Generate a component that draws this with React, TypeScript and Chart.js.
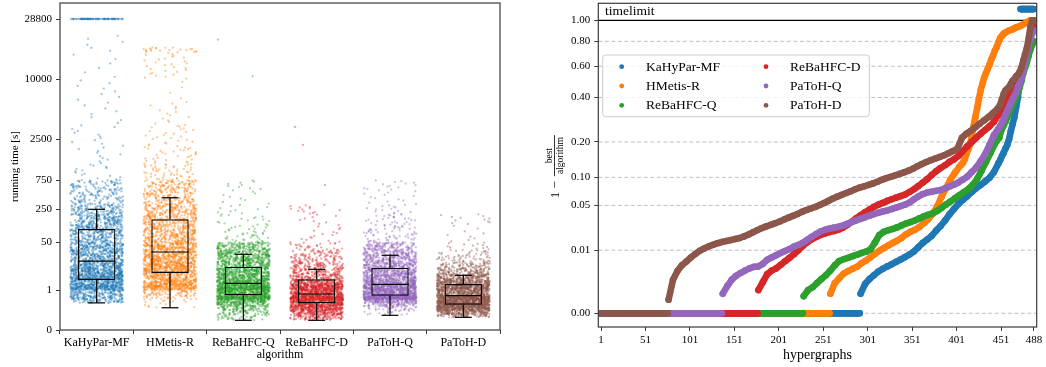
import React, { useEffect, useRef } from 'react';
import { Chart, registerables, LinearScale } from 'chart.js';

// ---------------- shared ----------------
const ALGORITHMS = ['KaHyPar-MF', 'HMetis-R', 'ReBaHFC-Q', 'ReBaHFC-D', 'PaToH-Q', 'PaToH-D'];
const COLORS = ['#1f77b4', '#ff7f0e', '#2ca02c', '#d62728', '#9467bd', '#8c564b'];

// ---------------- left panel: running times ----------------
const TIME_TICKS = [0, 1, 50, 250, 750, 2500, 10000, 28800];
const TIMELIMIT_SECONDS = 28800;
const WHISKER_LOW = [0.6, 0.47, 0.183, 0.183, 0.29, 0.246];
const Q1 = [2.94, 5.34, 0.824, 0.588, 0.812, 0.55];
const MEDIAN = [13.3, 25.4, 2.15, 0.866, 1.94, 0.812];
const Q3 = [96, 154, 8.73, 3.14, 8.09, 2.0];
const WHISKER_HIGH = [250, 386, 21.6, 7.16, 20.1, 4.42];
const CLOUD_MAX = [22000, 17500, 750, 300, 750, 200];
const TIMEOUT_COUNT = [80, 0, 0, 0, 0, 0];

// how many runs fall in each running-time bin
const BIN_EDGES = [0.1, 0.2, 0.3, 0.4, 0.5, 0.6, 0.7, 0.8, 1, 1.5, 2, 3, 5, 8, 12, 20, 30, 50, 80, 120, 200, 300, 500, 750, 1200, 2000, 3500, 6000, 10000, 16000, 24000, 28800];
const COUNTS_KAHYPAR_MF = [0, 0, 0, 0, 0, 50, 70, 110, 150, 110, 120, 230, 190, 140, 140, 130, 150, 140, 150, 160, 110, 90, 70, 14, 10, 12, 8, 8, 6, 6, 0];
const COUNTS_HMETIS_R = [0, 0, 0, 4, 4, 8, 20, 60, 110, 110, 130, 140, 180, 180, 190, 120, 180, 160, 130, 150, 130, 130, 100, 50, 30, 25, 14, 4, 28, 22, 0];
const COUNTS_REBAHFC_Q = [4, 30, 45, 60, 90, 120, 230, 280, 220, 130, 180, 200, 180, 130, 180, 130, 130, 25, 15, 14, 9, 8, 10, 0, 0, 0, 0, 0, 0, 0, 0];
const COUNTS_REBAHFC_D = [4, 90, 140, 180, 200, 220, 270, 280, 200, 140, 140, 110, 90, 70, 60, 40, 25, 10, 6, 8, 14, 0, 0, 0, 0, 0, 0, 0, 0, 0, 0];
const COUNTS_PATOH_Q = [0, 0, 15, 30, 70, 130, 330, 330, 200, 130, 170, 200, 180, 140, 150, 110, 110, 35, 25, 25, 14, 12, 14, 0, 0, 0, 0, 0, 0, 0, 0];
const COUNTS_PATOH_D = [0, 40, 150, 260, 270, 260, 280, 250, 200, 120, 180, 170, 100, 60, 40, 20, 12, 6, 3, 12, 0, 0, 0, 0, 0, 0, 0, 0, 0, 0, 0];
const OUTLIERS_KAHYPAR_MF: number[] = [];
const OUTLIERS_HMETIS_R: number[] = [];
const OUTLIERS_REBAHFC_Q = [10500, 20000];
const OUTLIERS_REBAHFC_D = [620, 2100, 3300];
const OUTLIERS_PATOH_Q: number[] = [];
const OUTLIERS_PATOH_D: number[] = [];

const BIN_COUNTS = [COUNTS_KAHYPAR_MF, COUNTS_HMETIS_R, COUNTS_REBAHFC_Q, COUNTS_REBAHFC_D, COUNTS_PATOH_Q, COUNTS_PATOH_D];
const OUTLIERS = [OUTLIERS_KAHYPAR_MF, OUTLIERS_HMETIS_R, OUTLIERS_REBAHFC_Q, OUTLIERS_REBAHFC_D, OUTLIERS_PATOH_Q, OUTLIERS_PATOH_D];

// ---------------- right panel: performance profile ----------------
const HYPERGRAPHS = 488;
const PROFILE_TICKS_X = [1, 51, 101, 151, 201, 251, 301, 351, 401, 451, 488];
const PROFILE_TICKS_Y = [0, 0.01, 0.05, 0.1, 0.2, 0.4, 0.6, 0.8, 1];
const TIMEOUT_ROW = 1.12;
const ZERO_COUNT = [292, 258, 228, 177, 137, 76];
const PROFILE_TIMEOUTS = [16, 0, 0, 0, 0, 0];
const MAIN_START = [293, 259, 229, 178, 138, 77];
const MAIN_STEP = 5;
const TAIL_START = [450, 406, 450, 450, 450, 450];
const TAIL_STEP = 2;

const MAIN_KAHYPAR_MF = [.0003, .0010, .0016, .0022, .0029, .0035, .0041, .0047, .0054, .0062, .0071, .0081, .0094, .0115, .0139, .0160, .0185, .0225, .0265, .0318, .0385, .0450, .0520, .0580, .0640, .0710, .0780, .0840, .0910, .0990, .1120, .1340];
const TAIL_KAHYPAR_MF = [.143, .155, .165, .178, .19, .21, .24, .27, .30, .35, .40, .50];
const MAIN_HMETIS_R = [.0003, .0011, .0017, .0025, .0030, .0035, .0040, .0050, .0058, .0070, .0083, .0097, .0110, .0124, .0138, .0152, .0170, .0195, .0215, .0232, .0255, .0290, .0330, .0390, .0480, .0630, .0780, .0950, .1100, .1250];
const TAIL_HMETIS_R = [.13, .135, .145, .16, .175, .19, .22, .26, .30, .34, .39, .44, .48, .52, .55, .58, .61, .65, .68, .72, .75, .79, .83, .85, .87, .88, .89, .90, .905, .91, .92, .93, .935, .94, .95, .96, .97, .98, .99, 1, 1, 1];
const MAIN_REBAHFC_Q = [.0002, .0005, .0007, .0011, .0016, .0022, .0031, .0044, .0057, .0063, .0068, .0074, .0080, .0087, .0093, .0103, .0140, .0190, .0215, .0228, .0238, .0252, .0270, .0287, .0302, .0318, .0340, .0362, .0380, .0398, .0425, .0465, .0510, .0555, .0605, .0655, .0705, .0760, .0840, .0960, .1150, .1380, .1640, .1940, .2150];
const TAIL_REBAHFC_Q = [.23, .25, .265, .28, .30, .32, .34, .36, .38, .40, .43, .46, .50, .55, .59, .63, .68, .73, .77, .80];
const MAIN_REBAHFC_D = [.0005, .0012, .0024, .0031, .0036, .0045, .0056, .0068, .0082, .0100, .0122, .0143, .0162, .0177, .0191, .0203, .0213, .0222, .0232, .0250, .0275, .0305, .0340, .0375, .0410, .0445, .0480, .0510, .0535, .0565, .0590, .0615, .0640, .0665, .0710, .0760, .0820, .0890, .0960, .1050, .1140, .1220, .1290, .1380, .1450, .1550, .1700, .1850, .2000, .2150, .2300, .2450, .2600, .2800, .3100];
const TAIL_REBAHFC_D = [.32, .335, .35, .37, .39, .41, .43, .45, .47, .50, .52, .55, .58, .62, .67, .72, .78, .85, .90, .94];
const MAIN_PATOH_Q = [.0003, .0008, .0015, .0021, .0026, .0031, .0036, .0040, .0041, .0048, .0061, .0069, .0078, .0087, .0096, .0105, .0118, .0127, .0140, .0158, .0178, .0198, .0218, .0232, .0242, .0250, .0258, .0268, .0285, .0302, .0319, .0335, .0352, .0370, .0388, .0405, .0420, .0433, .0450, .0470, .0490, .0510, .0540, .0590, .0635, .0675, .0700, .0715, .0730, .0745, .0775, .0810, .0845, .0890, .0950, .1015, .1120, .1230, .1400, .1600, .1900, .2250, .2500];
const TAIL_PATOH_Q = [.26, .275, .29, .31, .33, .35, .37, .39, .41, .43, .46, .48, .52, .57, .63, .70, .76, .82, .87, .90];
const MAIN_PATOH_D = [.0001, .0015, .0030, .0044, .0055, .0069, .0083, .0097, .0108, .0119, .0128, .0137, .0144, .0150, .0156, .0163, .0170, .0181, .0195, .0212, .0229, .0246, .0261, .0276, .0291, .0308, .0328, .0348, .0368, .0390, .0415, .0438, .0458, .0478, .0505, .0534, .0568, .0602, .0632, .0662, .0692, .0724, .0759, .0790, .0815, .0842, .0872, .0906, .0946, .0982, .1012, .1044, .1078, .1115, .1155, .1204, .1264, .1322, .1377, .1428, .1473, .1520, .1570, .1630, .1700, .1780, .2150, .2300, .2420, .2560, .2710, .2860, .3010, .3200, .3400];
const TAIL_PATOH_D = [.36, .39, .42, .44, .45, .46, .48, .50, .51, .53, .54, .56, .59, .64, .69, .74, .82, .93, 1, 1];

const PROFILE_MAIN = [MAIN_KAHYPAR_MF, MAIN_HMETIS_R, MAIN_REBAHFC_Q, MAIN_REBAHFC_D, MAIN_PATOH_Q, MAIN_PATOH_D];
const PROFILE_TAIL = [TAIL_KAHYPAR_MF, TAIL_HMETIS_R, TAIL_REBAHFC_Q, TAIL_REBAHFC_D, TAIL_PATOH_Q, TAIL_PATOH_D];

// ---------------- scales ----------------
const FONT = "'Liberation Serif', 'DejaVu Serif', serif";
const TIME_AXIS_MAX = 38200;
const TIME_TICK_POS = [0, 0.12232, 0.2682, 0.36911, 0.45872, 0.5841, 0.76758, 0.95107];
const lg = (v: number) => Math.log10(1 + Math.max(0, v));
const TIME_TICK_T = TIME_TICKS.map(lg);

function timeFwd(v: number) {
  const T = TIME_TICK_T, P = TIME_TICK_POS, t = lg(v);
  let i = 0;
  while (i < T.length - 2 && t > T[i + 1]) i++;
  return P[i] + ((t - T[i]) / (T[i + 1] - T[i])) * (P[i + 1] - P[i]);
}
function timeInv(f: number) {
  const T = TIME_TICK_T, P = TIME_TICK_POS;
  let i = 0;
  while (i < P.length - 2 && f > P[i + 1]) i++;
  const t = T[i] + ((f - P[i]) / (P[i + 1] - P[i])) * (T[i + 1] - T[i]);
  return Math.pow(10, t) - 1;
}
const cbrt = (v: number) => Math.sign(v) * Math.pow(Math.abs(v), 1 / 3);

class TimeAxisScale extends LinearScale {
  static id = 'anchoredTime';
  getPixelForValue(value: number) {
    const a = timeFwd(this.min), b = timeFwd(this.max);
    return this.getPixelForDecimal((timeFwd(value) - a) / (b - a));
  }
  getValueForPixel(pixel: number) {
    const a = timeFwd(this.min), b = timeFwd(this.max);
    return timeInv(a + this.getDecimalForPixel(pixel) * (b - a));
  }
}
class CubeRootScale extends LinearScale {
  static id = 'cubeRoot';
  getPixelForValue(value: number) {
    const a = cbrt(this.min), b = cbrt(this.max);
    return this.getPixelForDecimal((cbrt(value) - a) / (b - a));
  }
  getValueForPixel(pixel: number) {
    const a = cbrt(this.min), b = cbrt(this.max);
    const c = a + this.getDecimalForPixel(pixel) * (b - a);
    return c * c * c;
  }
}
Chart.register(...registerables, TimeAxisScale, CubeRootScale);

// ---------------- helpers ----------------
const STRIP_HALF_WIDTH = 0.36;
// deterministic hash in [0,1) used only for the horizontal jitter of the strip plot
function hash01(n: number) {
  let x = Math.imul((n + 0x9e3779b9) | 0, 0x85ebca6b);
  x ^= x >>> 13;
  x = Math.imul(x, 0xc2b2ae35);
  x ^= x >>> 16;
  return (x >>> 0) / 4294967296;
}
const jitter = (s: number) => (hash01(s) - 0.5) * 2 * STRIP_HALF_WIDTH;
function rgba(hex: string, a: number) {
  const n = parseInt(hex.slice(1), 16);
  return `rgba(${(n >> 16) & 255},${(n >> 8) & 255},${n & 255},${a})`;
}

function stripPoints(ai: number) {
  const pts: { x: number; y: number }[] = [];
  let s = ai * 10007 + 17;
  BIN_COUNTS[ai].forEach((n, b) => {
    if (!n) return;
    const lo = Math.max(BIN_EDGES[b], WHISKER_LOW[ai]);
    const hi = Math.min(BIN_EDGES[b + 1], CLOUD_MAX[ai]);
    if (hi <= lo) return;
    const flo = timeFwd(lo), fhi = timeFwd(hi);
    for (let k = 0; k < n; k++) {
      pts.push({ x: ai + jitter(s++), y: timeInv(flo + ((k + 0.5) / n) * (fhi - flo)) });
    }
  });
  for (let k = 0; k < TIMEOUT_COUNT[ai]; k++) pts.push({ x: ai + jitter(s++), y: TIMELIMIT_SECONDS });
  OUTLIERS[ai].forEach((v) => pts.push({ x: ai + jitter(s++), y: v }));
  return pts;
}

function zeroRun(ai: number) {
  const pts: { x: number; y: number }[] = [];
  for (let h = 1; h <= ZERO_COUNT[ai]; h++) pts.push({ x: h, y: 0 });
  return pts;
}
function profileCurve(ai: number) {
  const pts: { x: number; y: number }[] = [];
  PROFILE_MAIN[ai].forEach((v, k) => pts.push({ x: MAIN_START[ai] + k * MAIN_STEP, y: v }));
  PROFILE_TAIL[ai].forEach((v, k) => pts.push({ x: TAIL_START[ai] + k * TAIL_STEP, y: v }));
  return pts;
}
function timeoutRun(ai: number) {
  const pts: { x: number; y: number }[] = [];
  for (let h = HYPERGRAPHS - PROFILE_TIMEOUTS[ai] + 1; h <= HYPERGRAPHS; h++) pts.push({ x: h, y: TIMEOUT_ROW });
  return pts;
}

const frame = {
  id: 'frame',
  afterDraw(chart: any) {
    const { ctx, chartArea: ca } = chart;
    ctx.save();
    ctx.strokeStyle = '#3a3a3a';
    ctx.lineWidth = 1.2;
    ctx.strokeRect(ca.left, ca.top, ca.right - ca.left, ca.bottom - ca.top);
    ctx.restore();
  },
};

const boxWhiskers = {
  id: 'boxWhiskers',
  afterDatasetsDraw(chart: any) {
    const { ctx, scales } = chart;
    const x = scales.x, y = scales.y;
    const boxHalf = ((x.getPixelForValue(1) - x.getPixelForValue(0)) * 0.51) / 2;
    const capHalf = boxHalf * 0.45;
    ctx.save();
    ctx.strokeStyle = '#000';
    ctx.lineWidth = 1.2;
    const line = (x1: number, y1: number, x2: number, y2: number) => {
      ctx.beginPath(); ctx.moveTo(x1, y1); ctx.lineTo(x2, y2); ctx.stroke();
    };
    ALGORITHMS.forEach((_, i) => {
      const cx = x.getPixelForValue(i);
      const pq1 = y.getPixelForValue(Q1[i]), pq3 = y.getPixelForValue(Q3[i]);
      const plo = y.getPixelForValue(WHISKER_LOW[i]), phi = y.getPixelForValue(WHISKER_HIGH[i]);
      const pm = y.getPixelForValue(MEDIAN[i]);
      line(cx, pq3, cx, phi);
      line(cx, pq1, cx, plo);
      line(cx - capHalf, phi, cx + capHalf, phi);
      line(cx - capHalf, plo, cx + capHalf, plo);
      line(cx - boxHalf, pm, cx + boxHalf, pm);
    });
    ctx.restore();
  },
};

const profileGrid = {
  id: 'profileGrid',
  beforeDatasetsDraw(chart: any) {
    const { ctx, chartArea: ca, scales } = chart;
    const y = scales.y;
    ctx.save();
    ctx.beginPath();
    ctx.rect(ca.left, ca.top, ca.right - ca.left, ca.bottom - ca.top);
    ctx.clip();
    ctx.setLineDash([4, 2.5]);
    ctx.strokeStyle = '#b0b0b0';
    ctx.lineWidth = 0.8;
    PROFILE_TICKS_Y.forEach((v) => {
      if (v >= 1) return;
      const py = y.getPixelForValue(v);
      ctx.beginPath(); ctx.moveTo(ca.left, py); ctx.lineTo(ca.right, py); ctx.stroke();
    });
    ctx.setLineDash([]);
    ctx.strokeStyle = '#000';
    ctx.lineWidth = 1.2;
    const p1 = y.getPixelForValue(1);
    ctx.beginPath(); ctx.moveTo(ca.left, p1); ctx.lineTo(ca.right, p1); ctx.stroke();
    ctx.restore();
  },
  afterDraw(chart: any) {
    const { ctx, chartArea: ca } = chart;
    ctx.save();
    ctx.fillStyle = '#000';
    ctx.font = `13.5px ${FONT}`;
    ctx.textBaseline = 'alphabetic';
    ctx.textAlign = 'left';
    ctx.fillText('timelimit', ca.left + 6.7, 15);
    // legend
    const lx = ca.left + 4.4, ly = 55, lw = 266.6, lh = 61.7;
    ctx.beginPath();
    (ctx as any).roundRect(lx, ly, lw, lh, 3);
    ctx.fillStyle = 'rgba(255,255,255,0.8)';
    ctx.fill();
    ctx.strokeStyle = '#cccccc';
    ctx.lineWidth = 1;
    ctx.stroke();
    const markerX = [lx + 19, lx + 163.3];
    const textX = [lx + 43.3, lx + 187.3];
    const rowY = [66.7, 86, 105.3];
    ctx.font = `13.5px ${FONT}`;
    ctx.textBaseline = 'middle';
    ALGORITHMS.forEach((name, i) => {
      const col = i < 3 ? 0 : 1, row = i % 3;
      ctx.fillStyle = COLORS[i];
      ctx.beginPath(); ctx.arc(markerX[col], rowY[row], 2.4, 0, Math.PI * 2); ctx.fill();
      ctx.fillStyle = '#000';
      ctx.fillText(name, textX[col], rowY[row] + 0.5);
    });
    // y-axis title: 1 - best / algorithm
    ctx.translate(25, (ca.top + ca.bottom) / 2);
    ctx.rotate(-Math.PI / 2);
    ctx.textBaseline = 'middle';
    ctx.textAlign = 'left';
    ctx.font = `13px ${FONT}`;
    ctx.fillText('1 \u2212', -33, 0.5);
    ctx.strokeStyle = '#000';
    ctx.lineWidth = 0.8;
    ctx.beginPath(); ctx.moveTo(-11, -0.5); ctx.lineTo(30, -0.5); ctx.stroke();
    ctx.textAlign = 'center';
    ctx.font = `9.5px ${FONT}`;
    ctx.fillText('best', 9.5, -5.5);
    ctx.fillText('algorithm', 9.5, 5.5);
    ctx.restore();
  },
};

const tickFont = { family: FONT, size: 11 };
const fitY = (w: number) => (s: any) => { s.width = w; s.paddingTop = 0; s.paddingBottom = 0; };
const fitX = (h: number) => (s: any) => { s.height = h; s.paddingLeft = 0; s.paddingRight = 0; };

function leftConfig(): any {
  const strips = ALGORITHMS.map((name, ai) => ({
    type: 'scatter',
    label: name,
    data: stripPoints(ai),
    backgroundColor: rgba(COLORS[ai], 0.42),
    borderWidth: 0,
    pointRadius: 1.15,
    pointHoverRadius: 1.15,
    order: 1,
  }));
  const boxes = {
    type: 'bar',
    label: 'box',
    data: ALGORITHMS.map((_, i) => ({ x: i, y: [Q1[i], Q3[i]] })),
    backgroundColor: 'rgba(0,0,0,0)',
    borderColor: '#000',
    borderWidth: 1.2,
    borderSkipped: false,
    barPercentage: 0.51,
    categoryPercentage: 1,
    order: -1,
  };
  return {
    type: 'bar',
    data: { datasets: [boxes, ...strips] },
    options: {
      animation: false,
      responsive: false,
      devicePixelRatio: 1,
      events: [],
      layout: { padding: { left: 0, right: 10, top: 3, bottom: 0 } },
      plugins: { legend: { display: false }, tooltip: { enabled: false } },
      scales: {
        x: {
          type: 'linear',
          min: -0.5,
          max: 5.5,
          offset: false,
          afterBuildTicks: (s: any) => { s.ticks = ALGORITHMS.map((_, i) => ({ value: i })); },
          afterFit: fitX(37),
          ticks: { autoSkip: false, maxRotation: 0, minRotation: 0, padding: 2, color: '#000', font: { family: FONT, size: 12 }, callback: (v: number) => ALGORITHMS[Math.round(v)] },
          grid: { display: true, drawOnChartArea: false, drawTicks: true, tickLength: 4, tickColor: '#3a3a3a', tickWidth: 1 },
          border: { display: false },
          title: { display: true, text: 'algorithm', color: '#000', font: { family: FONT, size: 12 }, padding: { top: 0, bottom: 4.8 } },
        },
        y: {
          type: 'anchoredTime',
          min: 0,
          max: TIME_AXIS_MAX,
          afterBuildTicks: (s: any) => { s.ticks = TIME_TICKS.map((v) => ({ value: v })); },
          afterFit: fitY(60),
          ticks: { autoSkip: false, padding: 4, color: '#000', font: tickFont, callback: (v: number) => String(v) },
          grid: { display: true, drawOnChartArea: false, drawTicks: true, tickLength: 4, tickColor: '#3a3a3a', tickWidth: 1 },
          border: { display: false },
          title: { display: true, text: 'running time [s]', color: '#000', font: { family: FONT, size: 11 }, padding: { top: 8.4, bottom: 0 } },
        },
      },
    },
    plugins: [boxWhiskers, frame],
  };
}

function rightConfig(): any {
  const sets: any[] = [];
  ALGORITHMS.forEach((name, ai) => {
    const common = {
      backgroundColor: COLORS[ai],
      borderColor: COLORS[ai],
      pointBorderWidth: 0,
      pointRadius: 3.3,
      pointHoverRadius: 3.3,
      showLine: true,
      borderWidth: 6.6,
      borderCapStyle: 'round',
      borderJoinStyle: 'round',
      tension: 0,
      order: ALGORITHMS.length - 1 - ai,
    };
    sets.push({ ...common, label: name, data: zeroRun(ai) });
    sets.push({ ...common, label: name + ' profile', data: profileCurve(ai) });
    if (PROFILE_TIMEOUTS[ai] > 0) sets.push({ ...common, label: name + ' timeout', data: timeoutRun(ai) });
  });
  return {
    type: 'scatter',
    data: { datasets: sets },
    options: {
      animation: false,
      responsive: false,
      devicePixelRatio: 1,
      events: [],
      layout: { padding: { left: 0, right: 9.3, top: 3, bottom: 0 } },
      plugins: { legend: { display: false }, tooltip: { enabled: false } },
      scales: {
        x: {
          type: 'linear',
          min: -2.04,
          max: 491.1,
          afterBuildTicks: (s: any) => { s.ticks = PROFILE_TICKS_X.map((v) => ({ value: v })); },
          afterFit: fitX(40),
          ticks: { autoSkip: false, maxRotation: 0, minRotation: 0, padding: 3, color: '#000', font: tickFont, callback: (v: number) => String(v) },
          grid: { display: true, drawOnChartArea: false, drawTicks: true, tickLength: 4, tickColor: '#3a3a3a', tickWidth: 1 },
          border: { display: false },
          title: { display: true, text: 'hypergraphs', color: '#000', font: { family: FONT, size: 14 }, padding: { top: 0, bottom: 3.6 } },
        },
        y: {
          type: 'cubeRoot',
          min: -0.000102,
          max: 1.185,
          afterBuildTicks: (s: any) => { s.ticks = PROFILE_TICKS_Y.map((v) => ({ value: v })); },
          afterFit: fitY(68.3),
          ticks: { autoSkip: false, padding: 4, color: '#000', font: tickFont, callback: (v: number) => Number(v).toFixed(2) },
          grid: { display: true, drawOnChartArea: false, drawTicks: true, tickLength: 4, tickColor: '#3a3a3a', tickWidth: 1 },
          border: { display: false },
        },
      },
    },
    plugins: [profileGrid, frame],
  };
}

export default function App() {
  const leftRef = useRef<HTMLCanvasElement>(null);
  const rightRef = useRef<HTMLCanvasElement>(null);
  useEffect(() => {
    const left = new Chart(leftRef.current as HTMLCanvasElement, leftConfig());
    const right = new Chart(rightRef.current as HTMLCanvasElement, rightConfig());
    return () => {
      left.destroy();
      right.destroy();
    };
  }, []);
  return (
    <div style={{ position: 'absolute', left: 0, top: 0, width: 1046, height: 367, background: '#fff', overflow: 'hidden' }}>
      <canvas ref={leftRef} width={510} height={367} style={{ position: 'absolute', left: 0, top: 0, width: 510, height: 367 }} />
      <canvas ref={rightRef} width={516} height={367} style={{ position: 'absolute', left: 530, top: 0, width: 516, height: 367 }} />
    </div>
  );
}
